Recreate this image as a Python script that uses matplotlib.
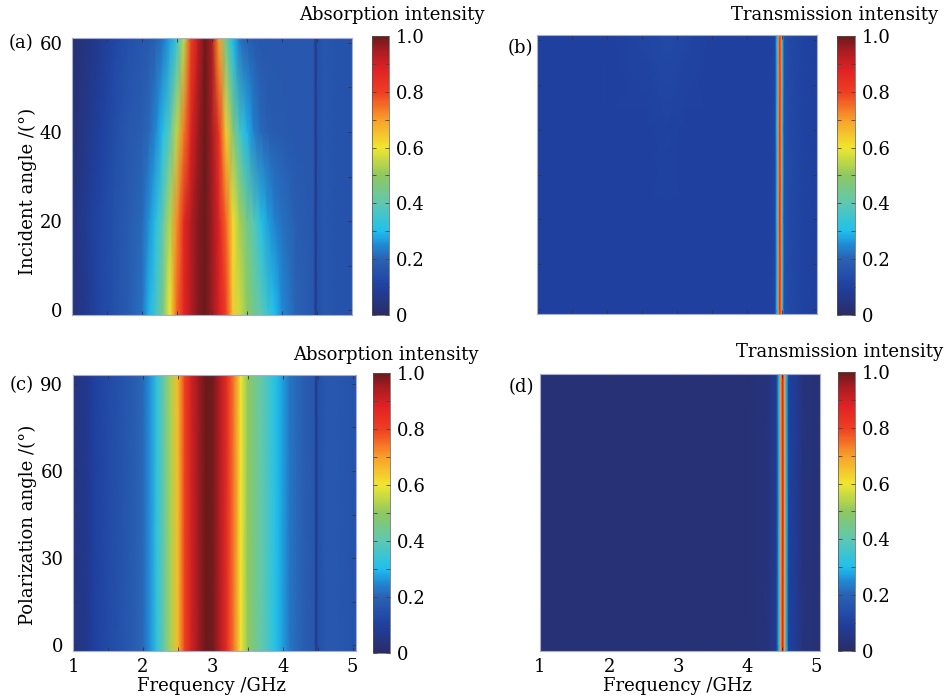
import numpy as np
import matplotlib
matplotlib.use("Agg")
import matplotlib.pyplot as plt
from matplotlib.colors import LinearSegmentedColormap
from matplotlib.ticker import MultipleLocator

plt.rcParams['font.family'] = ['DejaVu Serif']
plt.rcParams['font.size'] = 13

# (a) absorption vs frequency and incident angle
freq_a = [1.0, 1.2, 1.4, 1.6, 1.8, 2.0, 2.1, 2.2, 2.3, 2.4, 2.5, 2.6, 2.7, 2.8, 2.9,
          3.0, 3.1, 3.2, 3.3, 3.4, 3.5, 3.6, 3.7, 3.8, 3.9, 4.0, 4.2, 4.45, 4.48,
          4.51, 4.6, 4.8, 5.0]
angle_a = [0, 20, 40, 60]
abs_inc_0 = [0.04, 0.07, 0.12, 0.15, 0.18, 0.22, 0.29, 0.36, 0.46, 0.60, 0.76, 0.87, 0.93,
             0.98, 1.00, 0.96, 0.89, 0.80, 0.64, 0.56, 0.50, 0.44, 0.40, 0.34, 0.30, 0.25,
             0.20, 0.17, 0.06, 0.15, 0.17, 0.16, 0.16]
abs_inc_20 = [0.04, 0.08, 0.12, 0.15, 0.18, 0.21, 0.26, 0.32, 0.41, 0.54, 0.72, 0.86, 0.93,
              0.98, 1.00, 0.96, 0.88, 0.76, 0.61, 0.52, 0.45, 0.39, 0.32, 0.27, 0.24, 0.22,
              0.19, 0.17, 0.06, 0.15, 0.17, 0.16, 0.16]
abs_inc_40 = [0.03, 0.06, 0.10, 0.14, 0.17, 0.19, 0.21, 0.25, 0.31, 0.40, 0.55, 0.74, 0.88,
              0.96, 1.00, 0.95, 0.83, 0.64, 0.48, 0.36, 0.29, 0.24, 0.21, 0.19, 0.18, 0.18,
              0.17, 0.17, 0.06, 0.15, 0.17, 0.16, 0.16]
abs_inc_60 = [0.03, 0.05, 0.08, 0.12, 0.15, 0.17, 0.18, 0.20, 0.23, 0.28, 0.36, 0.55, 0.80,
              0.92, 1.00, 0.94, 0.70, 0.45, 0.30, 0.23, 0.20, 0.18, 0.17, 0.17, 0.17, 0.17,
              0.17, 0.17, 0.06, 0.15, 0.17, 0.16, 0.16]

# (b) transmission vs frequency and incident angle
freq_b = [1.0, 2.0, 2.6, 2.85, 3.1, 3.5, 4.0, 4.3, 4.4, 4.43, 4.45, 4.47, 4.49, 4.51,
          4.53, 4.6, 4.8, 5.0]
angle_b = [0, 20, 40, 60]
trans_inc_0 = [0.10, 0.10, 0.10, 0.10, 0.10, 0.10, 0.10, 0.10, 0.12, 0.30, 0.72, 0.86,
               0.72, 0.30, 0.15, 0.13, 0.11, 0.10]
trans_inc_20 = [0.10, 0.10, 0.10, 0.10, 0.10, 0.10, 0.10, 0.10, 0.12, 0.30, 0.72, 0.86,
                0.72, 0.30, 0.15, 0.13, 0.11, 0.10]
trans_inc_40 = [0.10, 0.10, 0.10, 0.11, 0.10, 0.10, 0.10, 0.10, 0.12, 0.30, 0.72, 0.85,
                0.72, 0.30, 0.15, 0.13, 0.11, 0.10]
trans_inc_60 = [0.10, 0.10, 0.12, 0.13, 0.12, 0.10, 0.10, 0.10, 0.12, 0.30, 0.72, 0.82,
                0.72, 0.30, 0.15, 0.13, 0.11, 0.10]

# (c) absorption vs frequency, independent of polarization angle
freq_c = [1.0, 1.2, 1.3, 1.5, 1.7, 1.9, 2.0, 2.1, 2.2, 2.3, 2.4, 2.5, 2.6, 2.7, 2.8,
          2.9, 3.0, 3.1, 3.2, 3.3, 3.4, 3.5, 3.6, 3.7, 3.8, 3.9, 4.0, 4.1, 4.2, 4.3,
          4.45, 4.48, 4.51, 4.6, 4.8, 5.05]
angle_c = [0, 90]
abs_pol = [0.05, 0.07, 0.10, 0.13, 0.16, 0.19, 0.21, 0.26, 0.33, 0.42, 0.53, 0.66, 0.80,
           0.90, 0.96, 1.00, 0.99, 0.93, 0.85, 0.74, 0.60, 0.50, 0.45, 0.41, 0.36, 0.31,
           0.27, 0.23, 0.21, 0.19, 0.17, 0.06, 0.15, 0.17, 0.17, 0.16]

# (d) transmission vs frequency, independent of polarization angle
freq_d = [1.0, 2.0, 3.0, 4.0, 4.3, 4.42, 4.46, 4.48, 4.51, 4.54, 4.56, 4.6, 4.7, 4.8, 5.05]
angle_d = [0, 90]
trans_pol = [0.03, 0.03, 0.03, 0.03, 0.04, 0.08, 0.30, 0.70, 0.88, 0.70, 0.30, 0.10,
             0.08, 0.04, 0.03]

cmap = LinearSegmentedColormap.from_list('scanjet', [
    (0.00, '#2a2c66'), (0.10, '#1f40a0'), (0.20, '#2a62b4'), (0.25, '#2188d4'),
    (0.30, '#1ec0ef'), (0.40, '#5ec8b2'), (0.50, '#8ec860'), (0.60, '#f0e630'),
    (0.70, '#f8a02a'), (0.80, '#ef3e22'), (0.88, '#e02224'), (0.95, '#a81c22'),
    (1.00, '#6a1a1c')])


def padded(angles, rows, lo, hi):
    # repeat edge rows so the smooth mesh fills the axes like imagesc does
    y = np.r_[lo, angles, hi]
    z = np.vstack([rows[0], rows, rows[-1]])
    return y, z


def panel(ax_rect, cb_rect, freq, angles, rows, ylim, xlim, yticks, yminor,
          show_y, show_x):
    ax = fig.add_axes(ax_rect)
    y, z = padded(angles, np.array(rows), ylim[0], ylim[1])
    X, Y = np.meshgrid(freq, y)
    m = ax.pcolormesh(X, Y, z, cmap=cmap, vmin=0, vmax=1, shading='gouraud',
                      rasterized=True)
    ax.set_xlim(xlim)
    ax.set_ylim(ylim)
    ax.set_xticks([1, 2, 3, 4, 5])
    ax.xaxis.set_minor_locator(MultipleLocator(0.5))
    ax.set_yticks(yticks)
    ax.yaxis.set_minor_locator(MultipleLocator(yminor))
    ax.tick_params(which='both', direction='in', top=True, right=True,
                   length=3, width=0.6, color='#333344')
    ax.tick_params(axis='y', pad=7)
    ax.tick_params(axis='x', pad=5)
    if not show_y:
        ax.set_yticklabels([])
    if not show_x:
        ax.set_xticklabels([])
    for s in ax.spines.values():
        s.set_color('#a8aed0')
        s.set_linewidth(0.8)

    cax = fig.add_axes(cb_rect)
    cb = fig.colorbar(m, cax=cax)
    cb.set_ticks([0, 0.2, 0.4, 0.6, 0.8, 1.0])
    cb.set_ticklabels(['0', '0.2', '0.4', '0.6', '0.8', '1.0'])
    cb.ax.yaxis.set_minor_locator(MultipleLocator(0.1))
    cb.ax.tick_params(which='both', direction='in', left=True, right=True,
                      length=3, width=0.6, color='#444444', pad=5)
    cb.outline.set_linewidth(0.5)
    cb.outline.set_edgecolor('#555555')
    return ax


fig = plt.figure(figsize=(9.46, 7.0), dpi=100)

ax_a = panel([0.0761, 0.55, 0.296, 0.3957], [0.3932, 0.55, 0.018, 0.3986],
             freq_a, angle_a, [abs_inc_0, abs_inc_20, abs_inc_40, abs_inc_60],
             (-1.1, 61.1), (1, 5), [0, 20, 40, 60], 10, True, False)
ax_a.set_ylabel('Incident angle /(°)')
ax_a.yaxis.set_label_coords(-0.125, 0.445)

ax_b = panel([0.5677, 0.5514, 0.296, 0.3986], [0.8848, 0.55, 0.019, 0.3986],
             freq_b, angle_b, [trans_inc_0, trans_inc_20, trans_inc_40, trans_inc_60],
             (-1.1, 61.1), (1, 5), [0, 20, 40, 60], 10, False, False)

ax_c = panel([0.0772, 0.07, 0.2992, 0.394], [0.3943, 0.0671, 0.018, 0.40],
             freq_c, angle_c, [abs_pol, abs_pol],
             (-2, 93), (1, 5.05), [0, 30, 60, 90], 15, True, True)
ax_c.set_ylabel('Polarization angle /(°)')
ax_c.yaxis.set_label_coords(-0.127, 0.457)
ax_c.set_xlabel('Frequency /GHz')
ax_c.xaxis.set_label_coords(0.49, -0.094)

ax_d = panel([0.5708, 0.07, 0.296, 0.3957], [0.8858, 0.07, 0.018, 0.3986],
             freq_d, angle_d, [trans_pol, trans_pol],
             (-2, 93), (1, 5.05), [0, 30, 60, 90], 15, False, True)
ax_d.set_xlabel('Frequency /GHz')
ax_d.xaxis.set_label_coords(0.49, -0.094)

fig.text(0.4144, 0.9786, 'Absorption intensity', ha='center', va='center')
fig.text(0.8827, 0.9786, 'Transmission intensity', ha='center', va='center')
fig.text(0.408, 0.493, 'Absorption intensity', ha='center', va='center')
fig.text(0.887, 0.497, 'Transmission intensity', ha='center', va='center')

fig.text(0.022, 0.9386, '(a)', ha='center', va='center')
fig.text(0.5497, 0.931, '(b)', ha='center', va='center')
fig.text(0.0233, 0.45, '(c)', ha='center', va='center')
fig.text(0.5507, 0.447, '(d)', ha='center', va='center')

fig.savefig('out.png', dpi=100)
